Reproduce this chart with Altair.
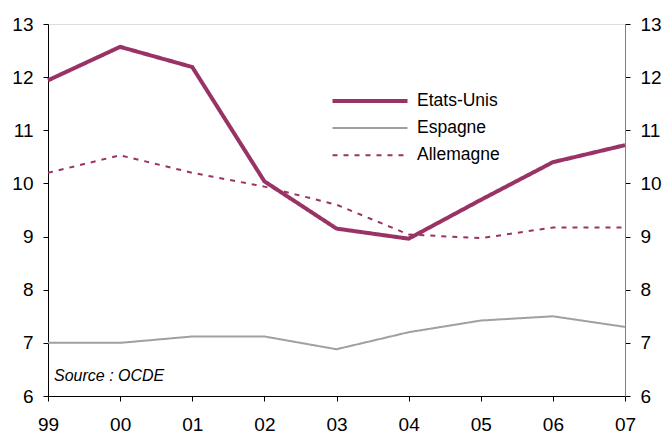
import altair as alt
import pandas as pd

annees = ["99", "00", "01", "02", "03", "04", "05", "06", "07"]
etats_unis = [11.94, 12.57, 12.19, 10.04, 9.15, 8.96, 9.69, 10.40, 10.72]
espagne = [7.00, 7.00, 7.12, 7.12, 6.88, 7.20, 7.42, 7.50, 7.30]
allemagne = [10.20, 10.53, 10.20, 9.94, 9.60, 9.04, 8.97, 9.17, 9.17]
series = ["Etats-Unis", "Espagne", "Allemagne"]
couleurs = ["#993366", "#a0a0a0", "#993366"]
y_ticks = [6, 7, 8, 9, 10, 11, 12, 13]

rows = []
for nom, vals in zip(series, [etats_unis, espagne, allemagne]):
    for a, v in zip(annees, vals):
        rows.append({"annee": a, "valeur": v, "serie": nom})
df = pd.DataFrame(rows)

FONT = "Liberation Sans"

x_enc = alt.X(
    "annee:N",
    sort=annees,
    scale=alt.Scale(type="point", padding=0),
    axis=alt.Axis(
        title=None, labelAngle=0, labelFontSize=19, labelFont=FONT,
        labelColor="black", tickSize=5, tickColor="black",
        domainColor="black", labelPadding=14, grid=False,
    ),
)

leg = alt.Legend(
    title=None, orient="none", legendX=310, legendY=65,
    labelFontSize=17.5, labelFont=FONT, labelColor="black",
    symbolSize=400, symbolType="M-3.75,0H3.75", rowPadding=7.1, labelOffset=35,
)

lines = alt.Chart(df).mark_line().encode(
    x=x_enc,
    y=alt.Y(
        "valeur:Q",
        scale=alt.Scale(domain=[6, 13], nice=False, zero=False),
        axis=alt.Axis(
            title=None, values=y_ticks, orient="left", labelFontSize=19,
            labelFont=FONT, labelColor="black", tickSize=5, tickColor="black",
            domainColor="black", labelPadding=10, grid=False,
        ),
    ),
    color=alt.Color("serie:N", sort=series,
                    scale=alt.Scale(domain=series, range=couleurs), legend=leg),
    strokeDash=alt.StrokeDash("serie:N", sort=series,
                              scale=alt.Scale(domain=series, range=[[1, 0], [1, 0], [5, 6]]),
                              legend=leg),
    strokeWidth=alt.StrokeWidth("serie:N", sort=series,
                                scale=alt.Scale(type="ordinal", domain=series, range=[4, 2, 2]),
                                legend=leg),
    detail="serie:N",
)

droite = alt.Chart(df).mark_point(opacity=0).encode(
    x=x_enc,
    y=alt.Y(
        "valeur:Q",
        scale=alt.Scale(domain=[6, 13], nice=False, zero=False),
        axis=alt.Axis(
            title=None, values=y_ticks, orient="right", labelFontSize=19,
            labelFont=FONT, labelColor="black", tickSize=5, tickColor="black",
            domainColor="#808080", labelPadding=10, grid=False,
        ),
    ),
)

source = alt.Chart(alt.Data(values=[{"t": "Source : OCDE"}])).mark_text(
    align="left", baseline="alphabetic", fontStyle="italic", fontSize=16,
    font=FONT, color="black",
).encode(x=alt.value(6), y=alt.value(357), text="t:N")

chart = alt.layer(lines, droite, source).resolve_scale(y="independent").properties(
    width=577, height=372,
    padding={"left": 48, "top": 24, "right": 41, "bottom": 39},
    autosize=alt.AutoSizeParams(type="none"),
).configure_view(stroke=None).configure(font=FONT, background="white")

chart.save("out.html", embed_options={"renderer": "svg", "actions": False})
